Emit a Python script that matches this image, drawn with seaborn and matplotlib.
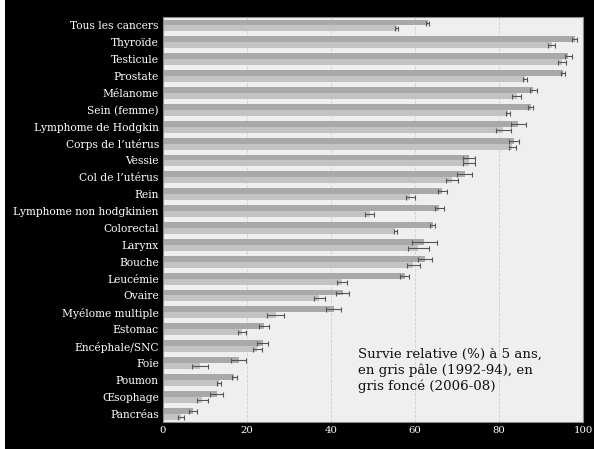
import matplotlib
matplotlib.use("Agg")
import matplotlib.pyplot as plt
import numpy as np
import pandas as pd
import seaborn as sns

# ---------------------------------------------------------------------------
# DATA
# ---------------------------------------------------------------------------
CANCERS = [
    "Tous les cancers", "Thyroïde", "Testicule", "Prostate", "Mélanome",
    "Sein (femme)", "Lymphome de Hodgkin", "Corps de l’utérus", "Vessie",
    "Col de l’utérus", "Rein", "Lymphome non hodgkinien", "Colorectal",
    "Larynx", "Bouche", "Leucémie", "Ovaire", "Myélome multiple", "Estomac",
    "Encéphale/SNC", "Foie", "Poumon", "Œsophage", "Pancréas",
]

SURV_2006 = [63, 98, 96.5, 95.2, 88.2, 87.5, 84.6, 83.6, 72.8, 71.8, 66.5,
             65.8, 64.2, 62.2, 62.4, 57.5, 42.8, 40.6, 24, 23.8, 18, 17, 12.8, 7.2]
ERR_2006 = [0.3, 0.6, 0.8, 0.4, 0.9, 0.6, 1.8, 1.2, 1.4, 1.8, 1.1,
            1.0, 0.6, 3.0, 1.6, 1.1, 1.6, 1.8, 1.2, 1.3, 1.8, 0.6, 1.5, 0.9]

SURV_1992 = [55.6, 92.5, 95.0, 86.2, 84.2, 82.2, 81.0, 83.2, 72.8, 68.8, 58.9,
             49.2, 55.3, 60.8, 59.6, 42.6, 37.2, 26.8, 18.8, 22.5, 8.8, 13.4, 9.4, 4.3]
ERR_1992 = [0.3, 0.9, 1.0, 0.4, 1.0, 0.5, 1.8, 0.9, 1.4, 1.4, 1.1,
            1.0, 0.4, 2.5, 1.5, 1.2, 1.3, 2.0, 1.0, 1.1, 1.8, 0.5, 1.2, 0.7]

PERIODS = ["2006-08", "1992-94"]
COLORS = {"2006-08": "#a9a9a9", "1992-94": "#c3c3c3"}

NOTE = "Survie relative (%) à 5 ans,\nen gris pâle (1992-94), en\ngris foncé (2006-08)"


def main() -> None:
    df = pd.DataFrame({
        "cancer": CANCERS * 2,
        "periode": ["2006-08"] * len(CANCERS) + ["1992-94"] * len(CANCERS),
        "survie": SURV_2006 + SURV_1992,
        "err": ERR_2006 + ERR_1992,
    })

    sns.set_style("white")
    plt.rcParams["font.family"] = ["DejaVu Serif"]

    fig = plt.figure(figsize=(5.94, 4.49), dpi=100, facecolor="black")
    ax = fig.add_axes([0.2744, 0.060, 0.7071, 0.902])
    ax.set_facecolor("#efefef")

    sns.barplot(data=df, y="cancer", x="survie", hue="periode",
                hue_order=PERIODS, order=CANCERS, palette=COLORS,
                orient="h", width=0.7, errorbar=None, ax=ax,
                edgecolor="none", legend=False)

    # error bars at the centre of each drawn bar
    for container, period in zip(ax.containers, PERIODS):
        sub = df[df["periode"] == period].set_index("cancer").loc[CANCERS]
        ys = [p.get_y() + p.get_height() / 2 for p in container.patches]
        ax.errorbar(sub["survie"].values, ys, xerr=sub["err"].values,
                    fmt="none", ecolor="#555555", elinewidth=0.8,
                    capsize=1.8, capthick=0.8)

    ax.set_xlim(0, 100)
    ax.set_ylim(len(CANCERS) - 0.5, -0.5)
    ax.set_xticks([0, 20, 40, 60, 80, 100])
    ax.set_xlabel("")
    ax.set_ylabel("")
    ax.tick_params(axis="both", length=0, colors="white", labelsize=7.3,
                   pad=3)
    ax.tick_params(axis="y", labelsize=7.7)
    ax.grid(axis="x", color="#cfcfcf", linestyle="--", linewidth=0.6)
    ax.set_axisbelow(True)
    for s in ax.spines.values():
        s.set_color("#8a8a8a")
        s.set_linewidth(0.8)

    ax.text(46.5, 19.1, NOTE, fontsize=9.6, color="#111111",
            va="top", ha="left", linespacing=1.25)

    # thin white strip along the left edge of the image
    fig.patches.append(plt.Rectangle((0, 0), 0.009, 1, transform=fig.transFigure,
                                     facecolor="white", edgecolor="none"))

    fig.savefig("out.png", dpi=100, facecolor="black")


if __name__ == "__main__":
    main()
